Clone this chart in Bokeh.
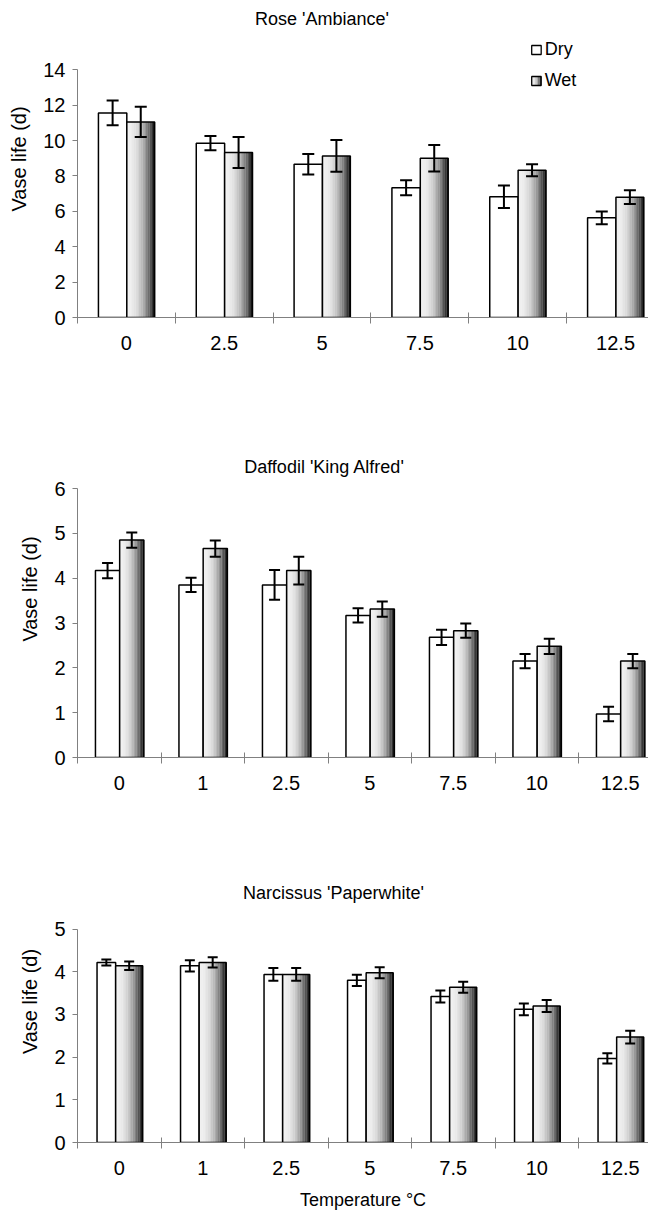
import numpy as np
from bokeh.plotting import figure
from bokeh.models import ColumnDataSource, FixedTicker, Whisker, TeeHead, Label, Range1d, Title
from bokeh.layouts import column
from bokeh.embed import file_html
from bokeh.resources import INLINE

FONT = "Liberation Sans"

# ---------------- data ----------------
rose_temps = ["0", "2.5", "5", "7.5", "10", "12.5"]
rose_dry = [11.56, 9.85, 8.66, 7.33, 6.82, 5.63]
rose_dry_err = [0.70, 0.40, 0.58, 0.43, 0.64, 0.36]
rose_wet = [11.05, 9.32, 9.13, 9.00, 8.32, 6.80]
rose_wet_err = [0.85, 0.88, 0.90, 0.75, 0.34, 0.39]

daff_temps = ["0", "1", "2.5", "5", "7.5", "10", "12.5"]
daff_dry = [4.17, 3.85, 3.85, 3.17, 2.68, 2.15, 0.97]
daff_dry_err = [0.17, 0.16, 0.33, 0.16, 0.17, 0.16, 0.16]
daff_wet = [4.85, 4.66, 4.17, 3.31, 2.83, 2.48, 2.15]
daff_wet_err = [0.17, 0.18, 0.31, 0.17, 0.16, 0.17, 0.16]

narc_temps = ["0", "1", "2.5", "5", "7.5", "10", "12.5"]
narc_dry = [4.22, 4.14, 3.94, 3.80, 3.42, 3.12, 1.97]
narc_dry_err = [0.07, 0.13, 0.15, 0.13, 0.14, 0.14, 0.12]
narc_wet = [4.14, 4.22, 3.94, 3.98, 3.64, 3.20, 2.47]
narc_wet_err = [0.10, 0.12, 0.15, 0.13, 0.13, 0.14, 0.15]

GRID = "#808080"


def grey(t):
    g = int(round(240 - 232 * t ** 2.3))
    return "#%02x%02x%02x" % (g, g, g)


def make_panel(title, cats, dry, dry_err, wet, wet_err, ymax, fig_h, frame_h,
               left_px, cat_px, ppu, geom, title_xy, cap, legend=False, xtitle=None):
    n = len(cats)
    x_end = (648 - left_px) / cat_px - 0.5
    y_top = frame_h / ppu

    def dx(px):
        return (px - left_px) / cat_px - 0.5

    def dy(py):
        return (frame_h - py) / ppu

    p = figure(width=648, height=fig_h, output_backend="svg", toolbar_location=None,
               x_range=Range1d(-0.5, x_end), y_range=Range1d(0, y_top),
               min_border_left=left_px, min_border_right=0, min_border_top=0,
               min_border_bottom=fig_h - frame_h, title=None)
    p.outline_line_color = None
    p.grid.visible = False
    p.background_fill_color = "white"
    p.border_fill_color = "white"

    d_left, split, w_right = geom
    xs = np.arange(n)

    # dry bars
    p.quad(left=xs + d_left, right=xs + split, bottom=0, top=dry,
           fill_color="white", line_color="black", line_width=1.5)

    # wet bars: gradient strips
    ns = 16
    L, R, T, C = [], [], [], []
    for i, top in enumerate(wet):
        for k in range(ns):
            t = (k + 0.5) / ns
            L.append(i + split + (w_right - split) * k / ns)
            R.append(i + split + (w_right - split) * (k + 1) / ns + 0.002)
            T.append(top)
            C.append(grey(t))
    p.quad(left=L, right=R, bottom=0, top=T, fill_color=C, line_color=None)
    p.quad(left=xs + split, right=xs + w_right, bottom=0, top=wet,
           fill_color=None, line_color="black", line_width=1.5)

    # error bars
    dcen = (d_left + split) / 2
    wcen = (split + w_right) / 2
    for cen, vals, errs in ((dcen, dry, dry_err), (wcen, wet, wet_err)):
        src = ColumnDataSource(dict(x=xs + cen,
                                    lower=[v - e for v, e in zip(vals, errs)],
                                    upper=[v + e for v, e in zip(vals, errs)]))
        wk = Whisker(source=src, base="x", lower="lower", upper="upper", dimension="height",
                     line_color="black", line_width=2, level="overlay",
                     upper_head=TeeHead(size=cap, line_color="black", line_width=2),
                     lower_head=TeeHead(size=cap, line_color="black", line_width=2))
        p.add_layout(wk)

    # y axis
    ya = p.yaxis[0]
    step = 2 if ymax > 8 else 1
    ya.ticker = FixedTicker(ticks=list(range(0, ymax + 1, step)))
    ya.bounds = (0, ymax)
    ya.axis_line_color = GRID
    ya.major_tick_line_color = GRID
    ya.minor_tick_line_color = None
    ya.major_tick_out = 5
    ya.major_tick_in = 0
    ya.major_label_text_font = FONT
    ya.major_label_text_font_size = "20px"
    ya.major_label_text_color = "black"
    ya.major_label_standoff = 7
    ya.axis_label = "Vase life (d)"
    ya.axis_label_text_font = FONT
    ya.axis_label_text_font_size = "20px"
    ya.axis_label_text_font_style = "normal"
    ya.axis_label_text_color = "black"
    ya.axis_label_standoff = 10

    # x axis
    xa = p.xaxis[0]
    xa.ticker = FixedTicker(ticks=list(range(n)), minor_ticks=[i - 0.5 for i in range(n + 1)])
    xa.major_label_overrides = {i: c for i, c in enumerate(cats)}
    xa.axis_line_color = GRID
    xa.major_tick_line_color = None
    xa.major_tick_in = 0
    xa.major_tick_out = 0
    xa.minor_tick_line_color = GRID
    xa.minor_tick_in = 5
    xa.minor_tick_out = 6
    xa.major_label_text_font = FONT
    xa.major_label_text_font_size = "20px"
    xa.major_label_text_color = "black"
    xa.major_label_standoff = 12

    # title
    p.add_layout(Label(x=dx(title_xy[0]), y=dy(title_xy[1]), text=title,
                       text_align="center", text_baseline="middle",
                       text_font=FONT, text_font_size="18px", text_color="black"))

    if legend:
        bw, bh = 9.5, 9
        for (yy, name, is_wet) in ((49.5, "Dry", False), (80.5, "Wet", True)):
            x0, x1 = dx(531), dx(531 + bw)
            y0, y1 = dy(yy + bh / 2), dy(yy - bh / 2)
            if is_wet:
                m = 6
                for k in range(m):
                    t = (k + 0.5) / m
                    p.quad(left=[x0 + (x1 - x0) * k / m], right=[x0 + (x1 - x0) * (k + 1) / m],
                           bottom=[y0], top=[y1], fill_color=grey(t), line_color=None)
                p.quad(left=[x0], right=[x1], bottom=[y0], top=[y1], fill_color=None,
                       line_color="black", line_width=1.3)
            else:
                p.quad(left=[x0], right=[x1], bottom=[y0], top=[y1], fill_color="white",
                       line_color="black", line_width=1.3)
            p.add_layout(Label(x=dx(544), y=dy(yy - 1), text=name, text_align="left",
                               text_baseline="middle", text_font=FONT,
                               text_font_size="18px", text_color="black"))

    if xtitle is not None:
        text, offset, standoff = xtitle
        p.add_layout(Title(text=text, align="center", offset=offset, standoff=standoff,
                           text_font=FONT, text_font_size="18px", text_font_style="normal",
                           text_color="black"), "below")
    return p


p1 = make_panel("Rose 'Ambiance'", rose_temps, rose_dry, rose_dry_err, rose_wet, rose_wet_err,
                ymax=14, fig_h=420, frame_h=317, left_px=76, cat_px=98.0, ppu=17.7,
                geom=(-0.286, 0.004, 0.289), title_xy=(321, 18), cap=12, legend=True)

p2 = make_panel("Daffodil 'King Alfred'", daff_temps, daff_dry, daff_dry_err, daff_wet, daff_wet_err,
                ymax=6, fig_h=440, frame_h=337, left_px=77, cat_px=83.5, ppu=44.83,
                geom=(-0.285, 0.005, 0.295), title_xy=(324, 46), cap=11)

p3 = make_panel("Narcissus 'Paperwhite'", narc_temps, narc_dry, narc_dry_err, narc_wet, narc_wet_err,
                ymax=5, fig_h=359, frame_h=282, left_px=77, cat_px=83.5, ppu=42.67,
                geom=(-0.266, -0.043, 0.281), title_xy=(333, 32), cap=10,
                xtitle=("Temperature \u00b0C", 14, 20))

layout = column(p1, p2, p3, spacing=0)

open("out.html", "w").write(file_html(layout, INLINE))
